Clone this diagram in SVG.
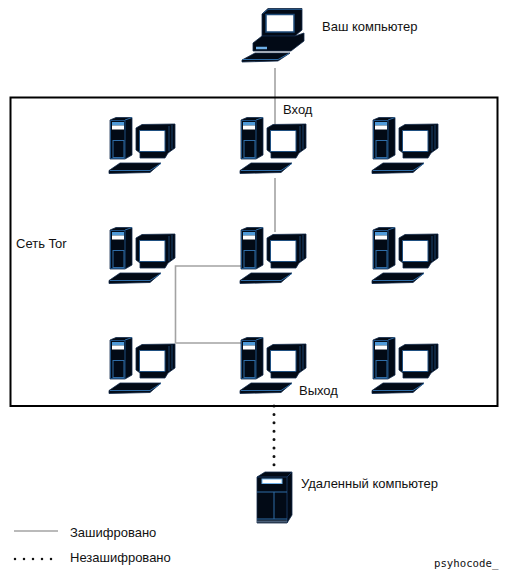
<svg xmlns="http://www.w3.org/2000/svg" xmlns:xlink="http://www.w3.org/1999/xlink" width="510" height="572" viewBox="0 0 510 572">
<style>
text{font-family:"Liberation Sans",Arial,sans-serif;font-size:13px;fill:#111}
.d{fill:#020a16;stroke:#12294a;stroke-width:.8}
.b{fill:none;stroke:#2f6ca6;stroke-width:1}
.enc{fill:none;stroke:#a3a3a3;stroke-width:1.6}
.plain{fill:none;stroke:#111;stroke-width:3;stroke-linecap:round;stroke-dasharray:0 8.4}
</style>
<defs>
<g id="pc">
<path class="d" d="M110 120L116 117.500L132 117.500L132 155L125 159L110 159Z"/>
<path d="M125 120L132 117.500" class="b"/>
<path d="M110.500 120.500H125V158.500H110.500Z" fill="none" stroke="#1f4f80"/>
<rect x="112" y="122" width="12" height="3.500" fill="#4f9ad8"/>
<rect x="112" y="125.500" width="12" height="4" fill="#fff"/>
<rect x="113" y="140.500" width="11" height="17" fill="#020a16" stroke="#2f6ca6"/>
<path class="d" d="M136 128L142 124.500L175 124L175 148L168 153L165 158H140V153L136 150Z"/>
<path d="M169 126V151M172 125V149" stroke="#1f4f80" fill="none" stroke-width=".8"/>
<path d="M139.500 130.500H165V151.500H139.500Z" fill="#fff" stroke="#1f4f80"/>
<path class="d" d="M109 170.500L120 163L161 163L150 172.500L109 173.500Z"/>
<path d="M110 170.500H150L161 163.500" fill="none" stroke="#2f6ca6"/>
</g>
</defs>
<rect width="510" height="572" fill="#fff"/>
<g id="connectors">
<path class="enc" d="M275 68V126"/>
<path class="enc" d="M275 178V232"/>
<path class="enc" d="M241 266H175.500V343H241"/>
<path class="plain" d="M274 406V468"/>
</g>
<rect id="tor-network" x="10.500" y="97.500" width="487" height="308.500" fill="none" stroke="#000" stroke-width="2"/>
<g id="your-computer">
<path class="d" d="M262 14L268 8.500H302V30L295 36H262Z"/>
<path d="M266 14.500H294V32H266Z" fill="#fff" stroke="#1d4a78" stroke-width="1.500"/>
<path d="M263 13.500L268 9.500H302" fill="none" stroke="#1f4f80"/>
<path class="d" d="M253 43L262 36H295L304 33V41L291 51H253Z"/>
<path d="M256 48H267" stroke="#6fb0e8" stroke-width="2.500"/>
<path class="d" d="M242 60L255 53H290L278 61L242 62Z"/>
<path d="M243 59.500H278L289 53.500" fill="none" stroke="#2f6ca6"/>
</g>
<g id="node-1-1"><use href="#pc"/></g>
<g id="node-1-2"><use href="#pc" x="131"/></g>
<g id="node-1-3"><use href="#pc" x="263"/></g>
<g id="node-2-1"><use href="#pc" y="110"/></g>
<g id="node-2-2"><use href="#pc" x="131" y="110"/></g>
<g id="node-2-3"><use href="#pc" x="263" y="110"/></g>
<g id="node-3-1"><use href="#pc" y="220"/></g>
<g id="node-3-2"><use href="#pc" x="131" y="220"/></g>
<g id="node-3-3"><use href="#pc" x="263" y="220"/></g>
<g id="remote-computer">
<path class="d" d="M257 477L265 472H292V515L287 523H257Z"/>
<path d="M257 477H287L292 472M287 477V523" fill="none" stroke="#16355c"/>
<rect x="262" y="479" width="20" height="4.500" fill="#fff" stroke="#6fb0e8"/>
<path d="M257 492H287M274 492V519M257 519H287" fill="none" stroke="#2f6ca6"/>
<path d="M257 521.500H287" stroke="#4a5f78" stroke-width="2"/>
</g>
<text x="322" y="31">Ваш компьютер</text>
<text x="283" y="114">Вход</text>
<text x="16" y="248">Сеть Tor</text>
<text x="299" y="395">Выход</text>
<text x="301" y="488">Удаленный компьютер</text>
<g id="legend">
<path class="enc" d="M14 531H58"/>
<path d="M15 559H60" fill="none" stroke="#111" stroke-width="2.500" stroke-linecap="round" stroke-dasharray="0 9"/>
<text x="70" y="537">Зашифровано</text>
<text x="70" y="562">Незашифровано</text>
</g>
<text x="434" y="567" style="font-family:'DejaVu Sans Mono','Liberation Mono',monospace;font-size:10.700px">psyhocode_</text>
</svg>
